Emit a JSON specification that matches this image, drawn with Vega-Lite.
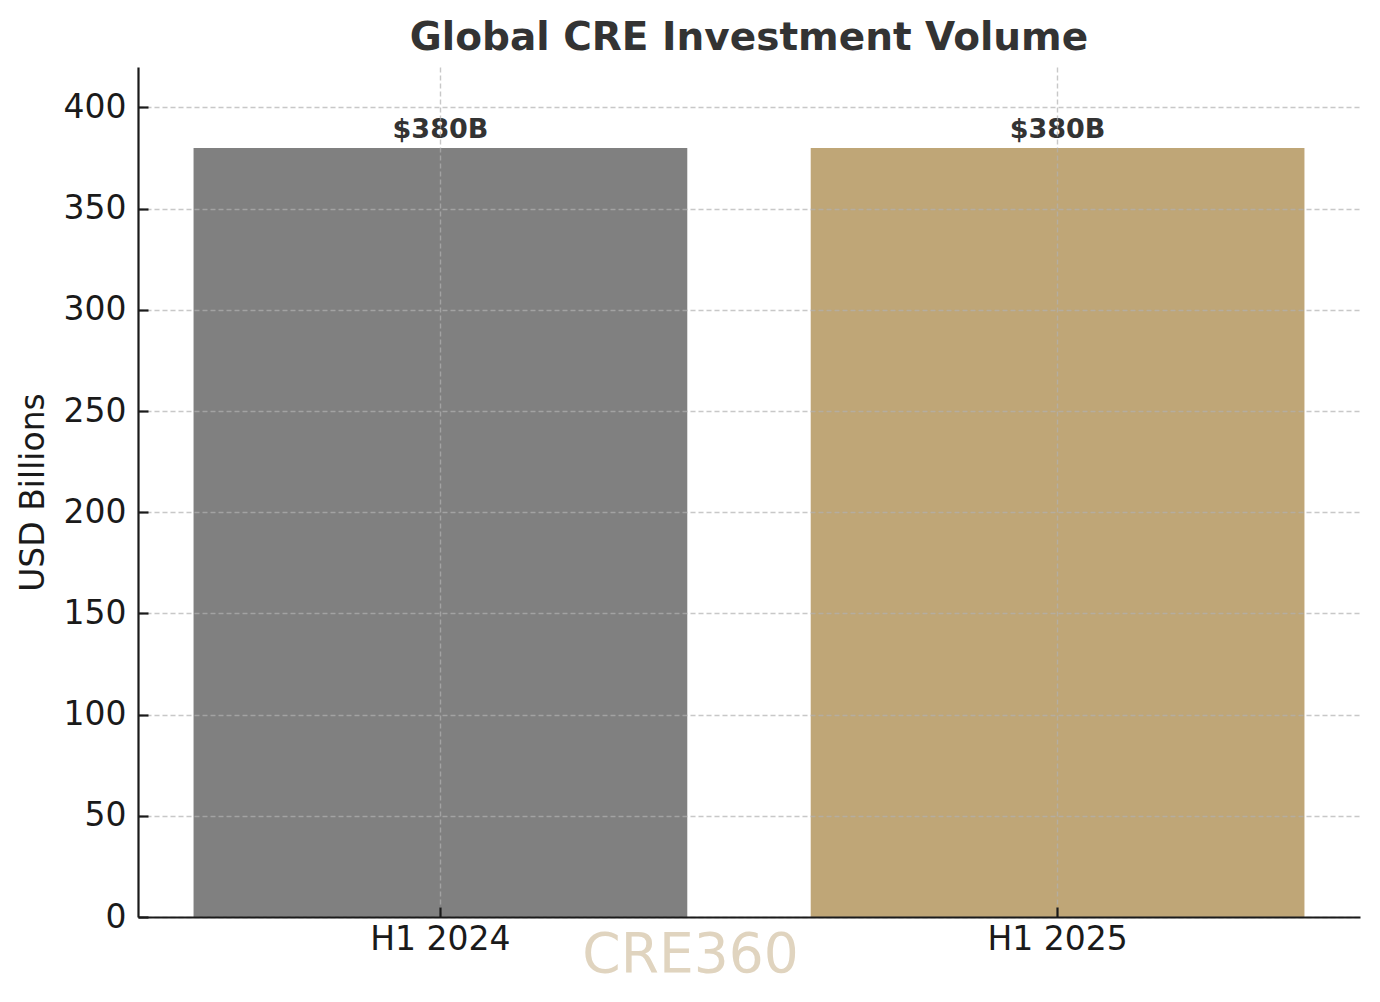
{
  "$schema": "https://vega.github.io/schema/vega-lite/v6.json",
  "width": 1222,
  "height": 850,
  "autosize": {"type": "none"},
  "padding": {"left": 138, "top": 67, "right": 20, "bottom": 85},
  "background": "white",
  "title": {
    "text": "Global CRE Investment Volume",
    "anchor": "middle",
    "font": "DejaVu Sans",
    "fontSize": 39,
    "fontWeight": "bold",
    "color": "#333333",
    "offset": 9
  },
  "data": {
    "values": [
      {"period": "H1 2024", "volume": 380, "label": "$380B"},
      {"period": "H1 2025", "volume": 380, "label": "$380B"}
    ]
  },
  "encoding": {
    "x": {
      "field": "period",
      "type": "nominal",
      "sort": null,
      "scale": {"paddingInner": 0.2, "paddingOuter": 0.09},
      "axis": {
        "title": "CRE360",
        "titleColor": "#e0d4bf",
        "titleFontSize": 55,
        "titleFontWeight": "normal",
        "titleX": 552,
        "titleY": 54,
        "titleBaseline": "alphabetic",
        "titleAlign": "center",
        "titleAnchor": null,
        "labelAngle": 0,
        "labelPadding": 16,
        "tickSize": -10,
        "grid": true,
        "zindex": 1
      }
    },
    "y": {
      "field": "volume",
      "type": "quantitative",
      "scale": {"domain": [0, 420], "nice": false},
      "axis": {
        "title": "USD Billions",
        "values": [0, 50, 100, 150, 200, 250, 300, 350, 400],
        "tickSize": -10,
        "labelPadding": 22,
        "titlePadding": 13,
        "grid": true,
        "zindex": 1
      }
    }
  },
  "layer": [
    {
      "mark": {"type": "bar"},
      "encoding": {
        "color": {
          "field": "period",
          "type": "nominal",
          "scale": {"domain": ["H1 2024", "H1 2025"], "range": ["#808080", "#bfa677"]},
          "legend": null
        }
      }
    },
    {
      "mark": {
        "type": "text",
        "baseline": "alphabetic",
        "align": "center",
        "dy": -10,
        "font": "DejaVu Sans",
        "fontSize": 27,
        "fontWeight": "bold",
        "color": "#333333"
      },
      "encoding": {"text": {"field": "label"}}
    }
  ],
  "config": {
    "view": {"stroke": null},
    "font": "DejaVu Sans",
    "axis": {
      "labelFont": "DejaVu Sans",
      "labelFontSize": 33,
      "labelColor": "#1a1a1a",
      "titleFont": "DejaVu Sans",
      "titleFontSize": 33,
      "titleFontWeight": "normal",
      "titleColor": "#1a1a1a",
      "domainColor": "#1a1a1a",
      "domainWidth": 2.2,
      "tickColor": "#1a1a1a",
      "tickWidth": 2.2,
      "gridColor": "#b0b0b0",
      "gridOpacity": 0.7,
      "gridDash": [5, 3],
      "gridWidth": 1.4
    }
  }
}
